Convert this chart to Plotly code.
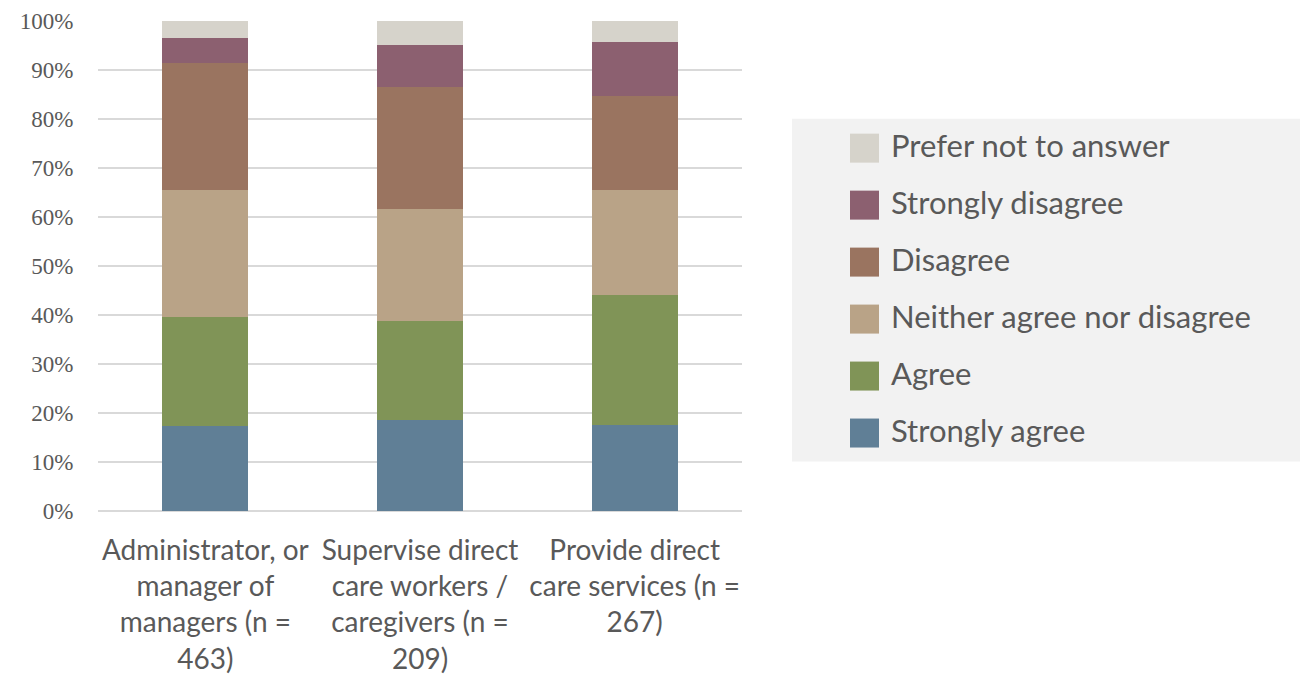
import plotly.graph_objects as go

categories = [
    "Administrator, or<br>manager of<br>managers (n =<br>463)",
    "Supervise direct<br>care workers /<br>caregivers (n =<br>209)",
    "Provide direct<br>care services (n =<br>267)",
]
series_names = ["Strongly agree", "Agree", "Neither agree nor disagree",
                "Disagree", "Strongly disagree", "Prefer not to answer"]
strongly_agree = [17.4, 18.6, 17.6]
agree = [22.2, 20.1, 26.4]
neither = [26.0, 23.0, 21.6]
disagree = [25.9, 24.8, 19.1]
strongly_disagree = [4.95, 8.7, 11.1]
prefer_not = [3.55, 4.8, 4.2]
series_values = [strongly_agree, agree, neither, disagree, strongly_disagree, prefer_not]
colors = ["#607f96", "#809457", "#b9a387", "#9a7460", "#8c6070", "#d6d3cb"]
y_ticks = list(range(0, 101, 10))
y_tick_labels = [f"{v}%" for v in y_ticks]

W, H = 1300, 678
L, R, T, B = 98, 742, 21.3, 511.5


def px_x(x):
    return (x - L) / (R - L)


def px_y(y):
    return (B - y) / (B - T)


fig = go.Figure()
for name, vals, col in zip(series_names, series_values, colors):
    fig.add_trace(go.Bar(
        x=categories, y=vals, name=name, marker=dict(color=col, line=dict(width=0)),
        showlegend=False,
    ))

shapes = []
annotations = []
# legend background
shapes.append(dict(type="rect", xref="paper", yref="paper",
                   x0=px_x(792), x1=px_x(1300), y0=px_y(462), y1=px_y(119),
                   fillcolor="#f2f2f2", line=dict(width=0), layer="below"))
for i, (name, col) in enumerate(reversed(list(zip(series_names, colors)))):
    top = 134 + 57 * i
    shapes.append(dict(type="rect", xref="paper", yref="paper",
                       x0=px_x(850), x1=px_x(879), y0=px_y(top + 29), y1=px_y(top),
                       fillcolor=col, line=dict(width=0)))
    annotations.append(dict(xref="paper", yref="paper", x=px_x(889), y=px_y(top + 11),
                            text=name, showarrow=False, xanchor="left", yanchor="middle",
                            font=dict(family="Lato", size=31, color="#595959")))

fig.update_layout(
    barmode="stack",
    bargap=0.6,
    width=W, height=H,
    margin=dict(l=L, r=W - R, t=T, b=H - B, pad=0, autoexpand=False),
    plot_bgcolor="white", paper_bgcolor="white",
    shapes=shapes, annotations=annotations,
    xaxis=dict(
        showgrid=False, showline=False, zeroline=False, automargin=False,
        tickfont=dict(family="Lato", size=28, color="#595959"),
        ticks="outside", ticklen=14, tickcolor="rgba(0,0,0,0)",
    ),
    yaxis=dict(
        range=[0, 100], tickvals=y_ticks, ticktext=y_tick_labels,
        showgrid=True, gridcolor="#d9d9d9", gridwidth=1.5, automargin=False,
        zeroline=True, zerolinecolor="#d9d9d9", zerolinewidth=1.5,
        showline=False,
        tickfont=dict(family="Liberation Serif", size=23, color="#595959"),
        ticks="outside", ticklen=19, tickcolor="rgba(0,0,0,0)",
    ),
)

fig.write_html("out.html", config={"displayModeBar": False},
               post_script="document.body.style.margin='0';document.body.style.overflow='hidden';")
